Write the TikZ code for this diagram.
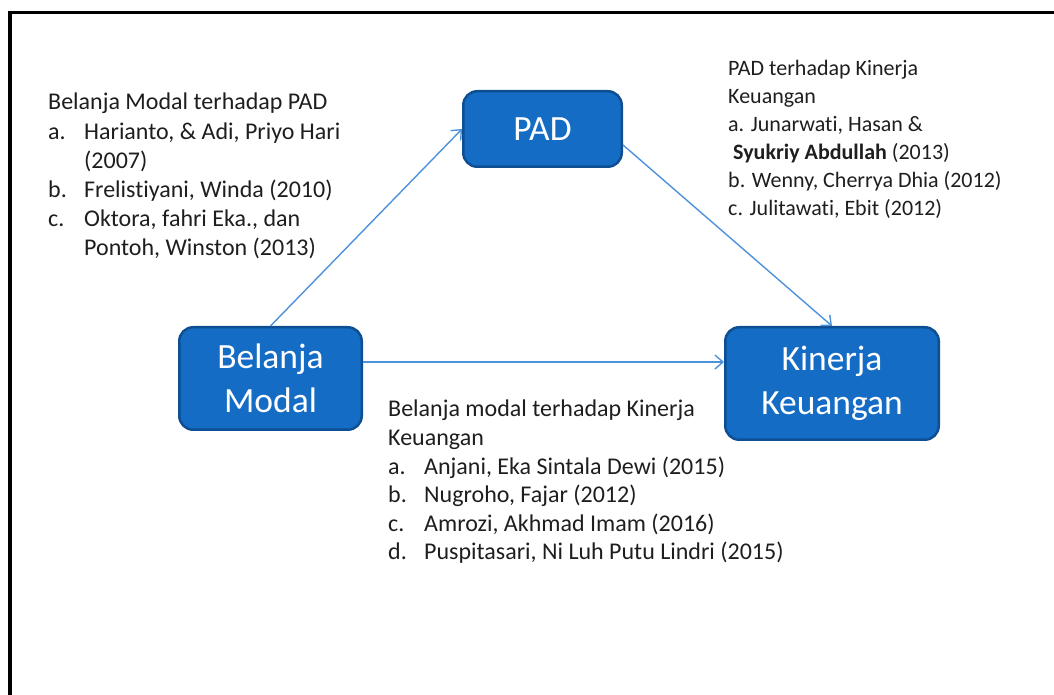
\documentclass[tikz,border=0pt]{standalone}
\usepackage{fontspec}
\setmainfont{Carlito}[Ligatures=NoCommon]
\usetikzlibrary{arrows.meta, calc, positioning}
\definecolor{fkfill}{RGB}{20,108,196}
\definecolor{fkedge}{RGB}{14,78,146}
\definecolor{fkline}{RGB}{78,146,220}
\definecolor{fktext}{RGB}{30,30,30}
\newcommand{\fkitem}[1]{\makebox[36pt][l]{#1}}
\tikzset{
  >={Straight Barb[length=8pt,width=14pt]},
  fk var/.style={draw=fkedge, fill=fkfill, rounded corners=14pt, line width=2.5pt,
    text=white, align=center, inner sep=0pt, font=\fontsize{35.5}{43.5}\selectfont},
  fk link/.style={draw=fkline, ->, line width=1.4pt},
  fk note/.style={anchor=north west, align=left, inner sep=0pt, text=fktext,
    font=\fontsize{24}{29.2}\selectfont},
  fk frame/.style={draw=black, line width=3.5pt},
}

\begin{document}
\begin{tikzpicture}[x=1pt, y=1pt]
 \useasboundingbox (0,0) rectangle (1054,695);
 \draw[fk frame] (10,0) -- (10,682.5) -- (1054,682.5);
 % variables
 \node[fk var, minimum width=158.5pt, minimum height=75.5pt] (pad) at (542.5,566) {PAD};
 \node[fk var, minimum width=182.5pt, minimum height=102.5pt] (bm) at (270.5,316.5) {Belanja\\Modal};
 \node[fk var, minimum width=213.5pt, minimum height=112.5pt] (kk) at (832,311.5) {Kinerja\\Keuangan};
 % links
 \draw[fk link] (bm.north) -- (pad.west);
 \draw[fk link] ([yshift=-16pt]pad.east) -- (kk.north);
 \draw[fk link] ([yshift=16.5pt]bm.east) -- ([yshift=16.5pt]bm.east -| kk.west);
 % references
 \node[fk note] (ref bm pad) at (48,602) {Belanja Modal terhadap PAD\\
   \fkitem{a.}Harianto, \& Adi, Priyo Hari\\
   \hspace*{36pt}(2007)\\
   \fkitem{b.}Frelistiyani, Winda (2010)\\
   \fkitem{c.}Oktora, fahri Eka., dan\\
   \hspace*{36pt}Pontoh, Winston (2013)};
 \node[fk note, font=\fontsize{22}{28}\selectfont] (ref pad kk) at (728,635) {PAD terhadap Kinerja\\
   Keuangan\\
   a. Junarwati, Hasan \&\\
   \hspace*{5pt}\textbf{Syukriy Abdullah} (2013)\\
   b. Wenny, Cherrya Dhia (2012)\\
   c. Julitawati, Ebit (2012)};
 \node[fk note, font=\fontsize{24}{28.6}\selectfont] (ref bm kk) at (388,295) {Belanja modal terhadap Kinerja\\
   Keuangan\\
   \fkitem{a.}Anjani, Eka Sintala Dewi (2015)\\
   \fkitem{b.}Nugroho, Fajar (2012)\\
   \fkitem{c.}Amrozi, Akhmad Imam (2016)\\
   \fkitem{d.}Puspitasari, Ni Luh Putu Lindri (2015)};
\end{tikzpicture}
\end{document}
